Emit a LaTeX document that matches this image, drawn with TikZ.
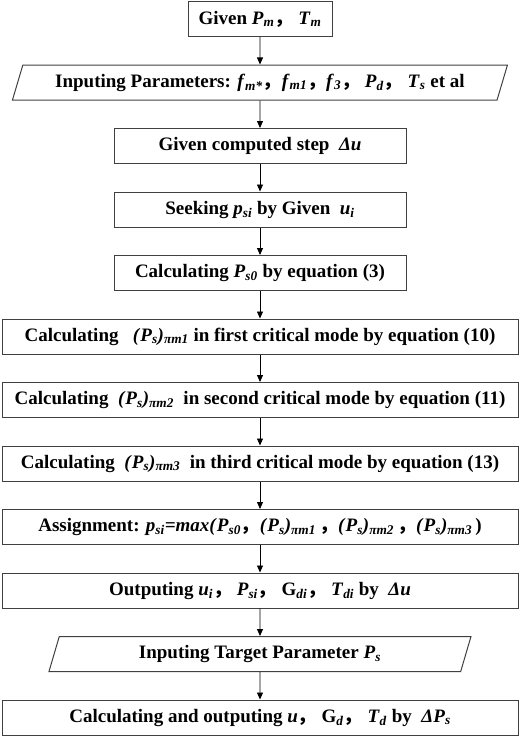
\documentclass[tikz,border=0pt]{standalone}
\usepackage{fontspec}
\setmainfont{Liberation Serif}
\newfontfamily\cjk{Noto Sans CJK SC}
\usetikzlibrary{arrows.meta,positioning,shapes.geometric}
\newcommand{\vr}[2]{\textit{#1}\textsubscript{\textit{#2}}}
\newcommand{\cm}{{\cjk ，}}

\begin{document}
\begin{tikzpicture}[
  x=1pt, y=1pt,
  font=\fontsize{19}{22}\selectfont\bfseries,
  node distance=27.5pt,
  box/.style={draw=black!75, line width=1pt, minimum height=35pt, inner sep=1pt},
  io/.style={box, trapezium, trapezium left angle=62, trapezium right angle=118, trapezium stretches body},
  arr/.style={-{Triangle[length=7pt,width=6pt]}, line width=0.8pt}]
  \useasboundingbox (0,0) rectangle (520,-741);
  \node[box, minimum width=144pt] (given) at (260,-19) {Given \vr{P}{m}\cm\ \vr{T}{m}};
  \node[io, minimum width=495pt, below=of given] (param) {Inputing Parameters: \vr{f}{m*}\cm\vr{f}{m1}\cm\vr{f}{3}\cm\ \vr{P}{d}\cm\ \vr{T}{s} et al};
  \node[box, minimum width=292pt, below=of param] (step) {Given computed step\ \ \textit{Δu}};
  \node[box, minimum width=292pt, below=of step] (seek) {Seeking \vr{p}{si} by Given\ \ \vr{u}{i}};
  \node[box, minimum width=292pt, below=of seek] (calc0) {Calculating \vr{P}{s0} by equation (3)};
  \node[box, minimum width=516pt, below=of calc0] (mode1) {Calculating\ \ \ \textit{(}\vr{P}{s}\textit{)}\textsubscript{\textit{πm1}} in first critical mode by equation (10)};
  \node[box, minimum width=516pt, below=of mode1] (mode2) {Calculating\ \ \textit{(}\vr{P}{s}\textit{)}\textsubscript{\textit{πm2}}\ \ in second critical mode by equation (11)};
  \node[box, minimum width=516pt, below=of mode2] (mode3) {Calculating\ \ \textit{(}\vr{P}{s}\textit{)}\textsubscript{\textit{πm3}}\ \ in third critical mode by equation (13)};
  \node[box, minimum width=516pt, below=of mode3] (assign) {Assignment: \vr{p}{si}\textit{=max(}\vr{P}{s0}\cm\textit{(}\vr{P}{s}\textit{)}\textsubscript{\textit{πm1}}\,\cm\textit{(}\vr{P}{s}\textit{)}\textsubscript{\textit{πm2}}\,\cm\textit{(}\vr{P}{s}\textit{)}\textsubscript{\textit{πm3}}\,)};
  \node[box, minimum width=516pt, below=of assign] (out) {Outputing \vr{u}{i}\cm\ \vr{P}{si}\cm\ G\textsubscript{\textit{di}}\cm\ \vr{T}{di} by\ \ \textit{Δu}};
  \node[io, minimum width=422pt, below=of out] (target) {Inputing Target Parameter \vr{P}{s}};
  \node[box, minimum width=516pt, below=of target] (final) {Calculating and outputing \textit{u}\cm\ G\textsubscript{\textit{d}}\cm\ \vr{T}{d} by\ \ \textit{Δ}\vr{P}{s}};
  \foreach \a/\b in {given/param, param/step, step/seek, seek/calc0, calc0/mode1, mode1/mode2, mode2/mode3, mode3/assign, assign/out, out/target, target/final}
    \draw[arr] (\a) -- (\b);
\end{tikzpicture}
\end{document}
